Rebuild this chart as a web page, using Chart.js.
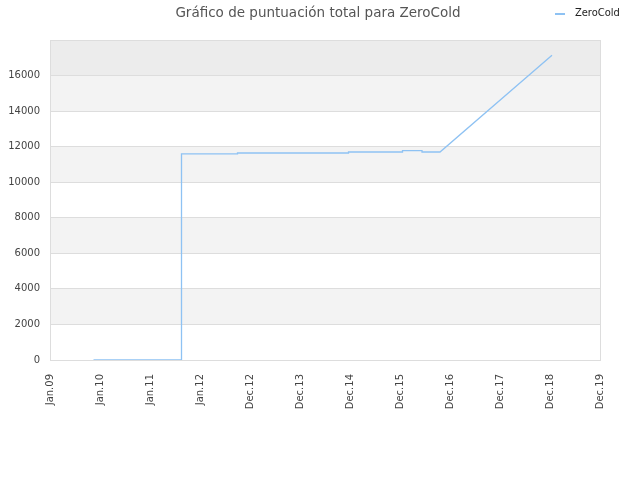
<!DOCTYPE html>
<html>
<head>
<meta charset="utf-8">
<script src="https://cdn.jsdelivr.net/npm/chart.js@4"></script>
<style>
  body { margin: 0; background: #fff; }
  #wrap { width: 640px; height: 480px; }
</style>
</head>
<body>
<div id="wrap"><canvas id="chart" width="640" height="480"></canvas></div>
<script>
// Years since Jan.09 for each point, and the total score there
const pointYears = [0.87, 2.63, 2.63, 3.75, 3.75, 5.97, 5.97, 7.05, 7.05, 7.44, 7.44, 7.8, 10.04];
const scores = [0, 0, 11590, 11590, 11645, 11645, 11700, 11700, 11775, 11775, 11700, 11700, 17140];
const xLabels = ['Jan.09', 'Jan.10', 'Jan.11', 'Jan.12', 'Dec.12', 'Dec.13', 'Dec.14', 'Dec.15', 'Dec.16', 'Dec.17', 'Dec.18', 'Dec.19'];
const seriesName = 'ZeroCold';
const chartTitle = 'Gráfico de puntuación total para ZeroCold';

let points = [];
for (let i = 0; i < pointYears.length; i++) {
    points.push({ x: pointYears[i], y: scores[i] });
}

// Alternating background bands behind the plot
const bandsPlugin = {
    id: 'bands',
    beforeDraw(chart) {
        let ctx = chart.ctx;
        let area = chart.chartArea;
        let y = chart.scales.y;
        ctx.save();
        for (let v = 0; v < 18000; v += 2000) {
            let top = y.getPixelForValue(v + 2000);
            let bottom = y.getPixelForValue(v);
            let idx = v / 2000;
            if (v === 16000) ctx.fillStyle = '#ececec';
            else if (idx % 2 === 1) ctx.fillStyle = '#f3f3f3';
            else ctx.fillStyle = '#ffffff';
            ctx.fillRect(area.left, top, area.right - area.left, bottom - top);
        }
        ctx.restore();
    },
    afterDraw(chart) {
        let ctx = chart.ctx;
        let area = chart.chartArea;
        ctx.save();
        // Plot frame
        ctx.strokeStyle = '#dddddd';
        ctx.lineWidth = 1;
        ctx.strokeRect(area.left + 0.5, area.top + 0.5, area.right - area.left, area.bottom - area.top);

        // Title
        ctx.fillStyle = '#555555';
        ctx.font = '13.5px "DejaVu Sans"';
        ctx.textAlign = 'center';
        ctx.textBaseline = 'middle';
        ctx.fillText(chartTitle, 318, 13);

        // Legend
        let ds = chart.data.datasets[0];
        ctx.strokeStyle = ds.borderColor;
        ctx.lineWidth = 2;
        ctx.beginPath();
        ctx.moveTo(555, 14);
        ctx.lineTo(565, 14);
        ctx.stroke();
        ctx.fillStyle = '#222222';
        ctx.font = '11px "DejaVu Sans Condensed", "DejaVu Sans"';
        ctx.textAlign = 'left';
        ctx.fillText(ds.label, 575, 13);
        ctx.restore();
    }
};

new Chart(document.getElementById('chart').getContext('2d'), {
    type: 'line',
    data: {
        datasets: [{
            label: seriesName,
            data: points,
            borderColor: '#8ec2f3',
            backgroundColor: '#8ec2f3',
            borderWidth: 1.3,
            pointRadius: 0,
            tension: 0,
            fill: false
        }]
    },
    options: {
        responsive: false,
        animation: false,
        layout: { padding: { left: 0, right: 40, top: 40, bottom: 0 } },
        plugins: {
            legend: { display: false },
            title: { display: false },
            tooltip: { enabled: false }
        },
        scales: {
            x: {
                type: 'linear',
                min: 0,
                max: 11,
                afterFit(scale) { scale.height = 120; },
                grid: { display: false },
                border: { display: false },
                ticks: {
                    stepSize: 1,
                    autoSkip: false,
                    maxRotation: 90,
                    minRotation: 90,
                    color: '#444444',
                    font: { family: 'DejaVu Sans', size: 10 },
                    padding: 6,
                    callback: function (value) {
                        return xLabels[value];
                    }
                }
            },
            y: {
                min: 0,
                max: 18000,
                afterFit(scale) { scale.width = 50; },
                grid: { color: '#dddddd', drawTicks: false },
                border: { display: false },
                ticks: {
                    stepSize: 2000,
                    color: '#444444',
                    font: { family: 'DejaVu Sans', size: 10 },
                    padding: 10,
                    callback: function (value) {
                        return value === 18000 ? '' : value;
                    }
                }
            }
        }
    },
    plugins: [bandsPlugin]
});
</script>
</body>
</html>
